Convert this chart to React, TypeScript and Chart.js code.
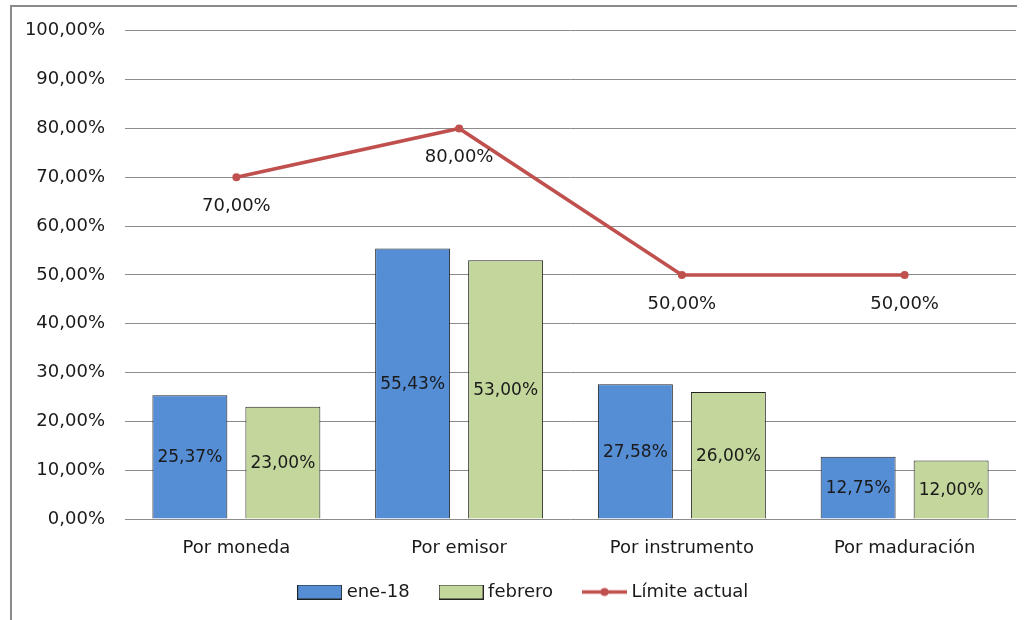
import React, { useEffect, useRef } from "react";
import { Chart, registerables } from "chart.js";

Chart.register(...registerables);

const categories = ["Por moneda", "Por emisor", "Por instrumento", "Por maduración"];
const eneValues = [25.37, 55.43, 27.58, 12.75];
const febreroValues = [23.0, 53.0, 26.0, 12.0];
const limiteValues = [70.0, 80.0, 50.0, 50.0];
const seriesNames = ["ene-18", "febrero", "Límite actual"];

const BLUE = "#558ED5";
const GREEN = "#C3D69B";
const RED = "#C0504D";
const TEXT = "#1a1a1a";
const FONT = "'DejaVu Sans', sans-serif";

const fmt = (v: number) => v.toFixed(2).replace(".", ",") + "%";

function boxSwatch(color: string) {
  const c = document.createElement("canvas");
  c.width = 45;
  c.height = 15;
  const ctx = c.getContext("2d")!;
  ctx.fillStyle = color;
  ctx.fillRect(0.5, 0.5, 44, 14);
  ctx.strokeStyle = "#222";
  ctx.lineWidth = 1;
  ctx.strokeRect(0.5, 0.5, 44, 14);
  return c;
}

function lineSwatch(color: string) {
  const c = document.createElement("canvas");
  c.width = 45;
  c.height = 15;
  const ctx = c.getContext("2d")!;
  ctx.strokeStyle = color;
  ctx.lineWidth = 3.5;
  ctx.beginPath();
  ctx.moveTo(0, 7.5);
  ctx.lineTo(45, 7.5);
  ctx.stroke();
  ctx.fillStyle = color;
  ctx.beginPath();
  ctx.arc(22.5, 7.5, 4, 0, Math.PI * 2);
  ctx.fill();
  return c;
}

// Outer frame lines (left and top edges of the chart box)
const framePlugin = {
  id: "frame",
  beforeDraw(chart: any) {
    const { ctx } = chart;
    ctx.save();
    ctx.fillStyle = "#ffffff";
    ctx.fillRect(0, 0, chart.width, chart.height);
    ctx.strokeStyle = "#8a8a8a";
    ctx.lineWidth = 2;
    ctx.beginPath();
    ctx.moveTo(11, chart.height);
    ctx.lineTo(11, 6);
    ctx.lineTo(1017, 6);
    ctx.stroke();
    ctx.restore();
  },
};

// Nudge the legend row so it sits centred under the plot area
const legendShiftPlugin = {
  id: "legendShift",
  afterLayout(chart: any) {
    const lg = chart.legend;
    if (lg) {
      lg.left += 11;
      lg.right += 11;
      lg.top -= 9;
      lg.bottom -= 9;
    }
  },
};

// Value labels: centred inside bars, below line points
const valueLabelPlugin = {
  id: "valueLabels",
  afterDatasetsDraw(chart: any) {
    const { ctx } = chart;
    ctx.save();
    ctx.fillStyle = TEXT;
    ctx.textAlign = "center";
    ctx.textBaseline = "middle";
    chart.data.datasets.forEach((ds: any, di: number) => {
      const meta = chart.getDatasetMeta(di);
      meta.data.forEach((el: any, i: number) => {
        const v = ds.data[i] as number;
        if (ds.type === "line") {
          ctx.font = `18px ${FONT}`;
          ctx.fillText(fmt(v), el.x, el.y + 29);
        } else {
          ctx.font = `17px ${FONT}`;
          ctx.fillText(fmt(v), el.x, (el.y + el.base) / 2 + 1);
        }
      });
    });
    ctx.restore();
  },
};

export default function App() {
  const canvasRef = useRef<HTMLCanvasElement | null>(null);

  useEffect(() => {
    if (!canvasRef.current) return;
    const swatches = [boxSwatch(BLUE), boxSwatch(GREEN), lineSwatch(RED)];

    const chart = new Chart(canvasRef.current, {
      data: {
        labels: categories,
        datasets: [
          {
            type: "line",
            label: seriesNames[2],
            data: limiteValues,
            borderColor: RED,
            backgroundColor: RED,
            borderWidth: 3.5,
            pointRadius: 4,
            pointBackgroundColor: RED,
            pointBorderColor: RED,
            pointBorderWidth: 0,
            tension: 0,
            order: 0,
          },
          {
            type: "bar",
            label: seriesNames[0],
            data: eneValues,
            backgroundColor: BLUE,
            borderColor: "#222",
            borderWidth: 1,
            categoryPercentage: 0.835,
            barPercentage: 0.806,
            order: 1,
          },
          {
            type: "bar",
            label: seriesNames[1],
            data: febreroValues,
            backgroundColor: GREEN,
            borderColor: "#222",
            borderWidth: 1,
            categoryPercentage: 0.835,
            barPercentage: 0.806,
            order: 1,
          },
        ],
      } as any,
      options: {
        animation: false,
        responsive: false,
        maintainAspectRatio: false,
        layout: { padding: { left: 12, top: 30, right: 10, bottom: 0 } },
        scales: {
          x: {
            afterFit: (scale: any) => {
              scale.height = 39.5;
            },
            grid: { display: false, drawTicks: false },
            border: { display: false },
            ticks: {
              color: TEXT,
              font: { family: FONT, size: 18 },
              padding: 19,
              maxRotation: 0,
            },
          },
          y: {
            min: 0,
            max: 100,
            afterFit: (scale: any) => {
              scale.width = 113;
            },
            grid: { color: "#8c8c8c", lineWidth: 1, drawTicks: false },
            border: { display: false },
            ticks: {
              stepSize: 10,
              color: TEXT,
              font: { family: FONT, size: 18 },
              padding: 20,
              callback: (v: any) => fmt(Number(v)),
            },
          },
        },
        plugins: {
          legend: {
            position: "bottom",
            labels: {
              usePointStyle: true,
              pointStyleWidth: 36,
              boxHeight: 15,
              padding: 33.5,
              color: TEXT,
              font: { family: FONT, size: 18 },
              generateLabels: () =>
                [1, 2, 0].map((di) => ({
                  text: seriesNames[di === 0 ? 2 : di - 1],
                  pointStyle: swatches[di === 0 ? 2 : di - 1] as any,
                  fillStyle: "transparent",
                  strokeStyle: "transparent",
                  lineWidth: 1,
                  hidden: false,
                  datasetIndex: di,
                  fontColor: TEXT,
                })),
            },
          },
          tooltip: { enabled: false },
        },
      } as any,
      plugins: [framePlugin, legendShiftPlugin, valueLabelPlugin],
    });

    return () => chart.destroy();
  }, []);

  return (
    <div style={{ position: "fixed", left: 0, top: 0, width: 1026, height: 620, background: "#fff" }}>
      <canvas ref={canvasRef} width={1026} height={620} style={{ display: "block", width: 1026, height: 620 }} />
    </div>
  );
}
